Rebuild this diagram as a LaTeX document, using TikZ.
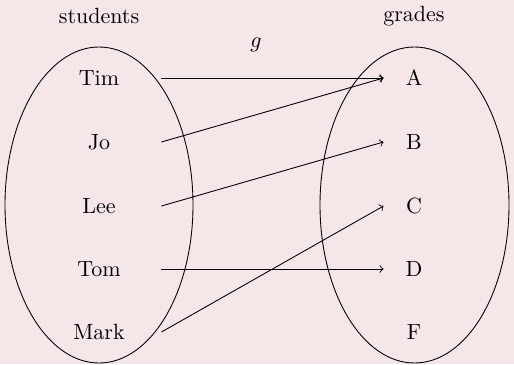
\documentclass[tikz,border=0pt]{standalone}
\usepackage{tikz}
\usetikzlibrary{positioning}
\definecolor{bgpink}{RGB}{245,230,232}

\begin{document}
\begin{tikzpicture}[x=0.4545pt,y=-0.4545pt,
  student/.style={minimum width=56.4pt,inner sep=0pt,text=black},
  grade/.style={minimum width=27.3pt,inner sep=0pt,text=black},
  map/.style={->,black,thin}]
\fill[bgpink] (0,0) rectangle (514,364);
\useasboundingbox (0,0) rectangle (514,364);

\draw[black,thin] (99,205) ellipse [x radius=94, y radius=158];
\draw[black,thin] (414.5,205) ellipse [x radius=94.5, y radius=158];

\node[text=black] (setA) at (99,16) {students};
\node[text=black] (setB) at (414,16) {grades};
\node[text=black] (fname) at (256,45) {$g$};

\node[student] (Tim) at (99,78) {Tim};
\node[student] (Jo) at (99,142) {Jo};
\node[student] (Lee) at (99,206) {Lee};
\node[student] (Tom) at (99,269) {Tom};
\node[student] (Mark) at (99,332) {Mark};

\node[grade] (A) at (414,78) {A};
\node[grade] (B) at (414,142) {B};
\node[grade] (C) at (414,206) {C};
\node[grade] (D) at (414,269) {D};
\node[grade] (F) at (414,332) {F};

\draw[map] (Tim.east) -- (A.west);
\draw[map] (Jo.east) -- (A.west);
\draw[map] (Lee.east) -- (B.west);
\draw[map] (Tom.east) -- (D.west);
\draw[map] (Mark.east) -- (C.west);

\end{tikzpicture}
\end{document}
